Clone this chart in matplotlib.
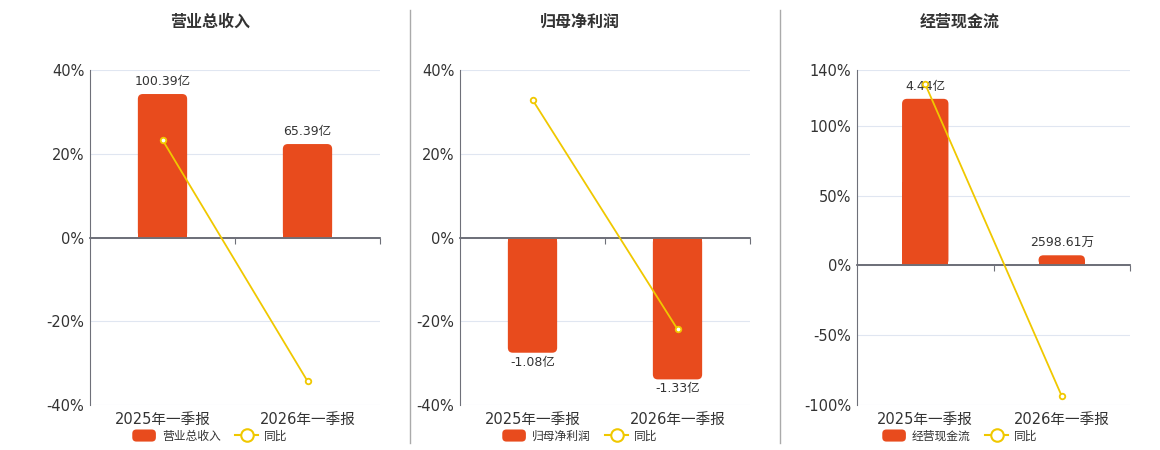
import matplotlib.pyplot as plt
import matplotlib.transforms as mtransforms
from matplotlib.lines import Line2D
from matplotlib.patches import Patch, FancyBboxPatch
from matplotlib.legend_handler import HandlerPatch

plt.rcParams['font.family'] = ['DejaVu Sans', 'Noto Sans CJK SC']

periods = ['2025年一季报', '2026年一季报']
titles = ['营业总收入', '归母净利润', '经营现金流']
bar_values = [[100.39, 65.39], [-1.08, -1.33], [4.44, 0.259861]]
bar_labels = [['100.39亿', '65.39亿'], ['-1.08亿', '-1.33亿'], ['4.44亿', '2598.61万']]
yoy = [[23.3, -34.3], [32.9, -21.9], [129.8, -93.6]]
pct_ticks = [[-40, -20, 0, 20, 40], [-40, -20, 0, 20, 40], [-100, -50, 0, 50, 100, 140]]
bar_lims = [(-117.2, 117.2), (-1.57, 1.57), (-3.74, 5.21)]

BAR = '#E84B1D'
LINE = '#F0C800'
AXIS = '#6E7079'
GRID = '#E0E6F1'
TEXT = '#333333'

W, H = 1160, 450
fig = plt.figure(figsize=(W / 100, H / 100), dpi=100)

# pixel boxes: left, right, top, bottom of each plot area
boxes = [(90, 380, 70, 405), (460, 750, 70, 405), (857, 1130, 70, 405)]
centers = [210, 580, 960]
BW = 0.34
RPX = 5  # corner radius in pixels


def round_swatch(legend, orig_handle, xdescent, ydescent, width, height, fontsize):
    return FancyBboxPatch((-xdescent, -ydescent), width, height,
                          boxstyle='round,pad=0,rounding_size=3')


for i in range(3):
    l, r, t, b = boxes[i]
    rect = [l / W, 1 - b / H, (r - l) / W, (b - t) / H]
    ax = fig.add_axes(rect)
    lo, hi = pct_ticks[i][0], pct_ticks[i][-1]
    ax.set_ylim(lo, hi)
    ax.set_xlim(-0.5, 1.5)
    ax.set_yticks(pct_ticks[i])
    ax.set_yticklabels([f'{v}%' for v in pct_ticks[i]], fontsize=10.5, color=TEXT)
    ax.tick_params(axis='y', length=0, pad=4)
    ax.grid(axis='y', color=GRID, lw=0.8)
    ax.set_axisbelow(True)
    for s in ['top', 'right']:
        ax.spines[s].set_visible(False)
    ax.spines['left'].set_color(AXIS)
    ax.spines['bottom'].set_position(('data', 0))
    ax.spines['bottom'].set_color(AXIS)
    ax.spines['bottom'].set_linewidth(1.3)
    ax.set_xticks([0.5, 1.5])
    ax.set_xticklabels([])
    ax.tick_params(axis='x', length=4, color=AXIS, direction='out')
    trans = mtransforms.blended_transform_factory(ax.transData, ax.transAxes)
    for j, p in enumerate(periods):
        ax.text(j, -0.02, p, transform=trans, ha='center', va='top',
                fontsize=10.5, color=TEXT)

    # bars on their own hidden scale
    axb = ax.twinx()
    ylo, yhi = bar_lims[i]
    axb.set_ylim(ylo, yhi)
    axb.set_xlim(-0.5, 1.5)
    axb.axis('off')
    xpx = (r - l) / 2.0           # pixels per x unit
    ypx = (b - t) / (yhi - ylo)   # pixels per y unit
    rx = RPX / xpx
    aspect = xpx / ypx
    for j, v in enumerate(bar_values[i]):
        rad = min(rx, BW / 2, abs(v) / aspect / 2)
        axb.add_patch(FancyBboxPatch((j - BW / 2, min(0, v)), BW, abs(v),
                                     boxstyle=f'round,pad=0,rounding_size={rad}',
                                     mutation_aspect=aspect, fc=BAR, ec='none', zorder=2))
        # square off the corners at the zero line
        half = v / 2
        axb.bar(j, half, width=BW, color=BAR, zorder=2)
        axb.annotate(bar_labels[i][j], (j, v), xytext=(0, 4 if v > 0 else -2),
                     textcoords='offset points', ha='center',
                     va='bottom' if v > 0 else 'top', fontsize=9, color=TEXT)
    axb.axhline(0, color=AXIS, lw=1.3, zorder=3)

    # yoy line on top
    axl = ax.twinx()
    axl.set_ylim(lo, hi)
    axl.set_xlim(-0.5, 1.5)
    axl.axis('off')
    axl.plot(range(2), yoy[i], color=LINE, lw=1.3, marker='o', ms=4,
             mfc='white', mec=LINE, mew=1.3, zorder=4)

    fig.text(centers[i] / W, 1 - 22 / H, titles[i], ha='center', va='center',
             fontsize=11.5, fontweight='bold', color=TEXT)

    handles = [Patch(facecolor=BAR, edgecolor='none'),
               Line2D([], [], color=LINE, lw=1.5, marker='o', ms=9, mfc='white',
                      mec=LINE, mew=1.5)]
    fig.legend(handles, [titles[i], '同比'], loc='center',
               bbox_to_anchor=(centers[i] / W, 1 - 436 / H), ncol=2, frameon=False,
               fontsize=8.5, handlelength=2.0, handleheight=1.2, columnspacing=1.2,
               handletextpad=0.5, labelcolor=TEXT,
               handler_map={Patch: HandlerPatch(patch_func=round_swatch)})

for x in [410, 780]:
    fig.add_artist(Line2D([x / W, x / W], [1 - 443 / H, 1 - 10 / H], color='#AAAAAA', lw=1))

fig.savefig('out.png', dpi=100)
